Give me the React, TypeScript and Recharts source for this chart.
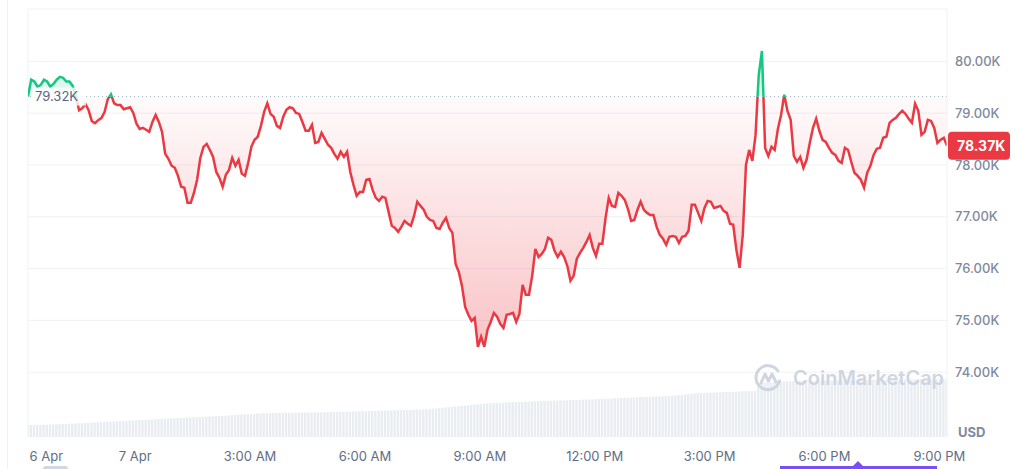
import React from "react";
import {
  ComposedChart,
  Area,
  Bar,
  XAxis,
  YAxis,
  CartesianGrid,
  ReferenceLine,
} from "recharts";

// BTC / USD, 24h, 5-minute samples starting 6 Apr 21:12
// time is in hours relative to 7 Apr 00:00
const START_HOUR = -2.8;
const STEP_HOURS = 1 / 12;

const PRICES = [
  79320, 79645, 79610, 79510, 79545, 79645, 79610, 79510, 79565, 79645,
  79700, 79680, 79610, 79610, 79525, 79335, 79055, 79095, 79175, 79055,
  78845, 78805, 78865, 78905, 79020, 79270, 79365, 79190, 79155, 79155,
  79075, 79095, 79115, 79005, 78795, 78695, 78715, 78680, 78640, 78830,
  78965, 78830, 78640, 78215, 78120, 77985, 77945, 77790, 77580, 77560,
  77270, 77270, 77460, 77715, 78135, 78350, 78405, 78290, 78155, 77865,
  77750, 77580, 77810, 77905, 78135, 77985, 78100, 77830, 77790, 78040,
  78350, 78485, 78545, 78755, 79025, 79190, 78985, 78930, 78755, 78715,
  78930, 79065, 79115, 79095, 79005, 78985, 78830, 78660, 78660, 78775,
  78425, 78445, 78620, 78505, 78390, 78330, 78215, 78120, 78255, 78155,
  78255, 77865, 77615, 77405, 77480, 77480, 77715, 77730, 77520, 77365,
  77305, 77385, 77365, 77095, 76825, 76785, 76710, 76805, 76920, 76865,
  76825, 77020, 77290, 77210, 77135, 77000, 76940, 76920, 76785, 76765,
  76885, 76980, 76785, 76690, 76090, 75935, 75665, 75260, 75110, 74990,
  75050, 74490, 74685, 74490, 74820, 74970, 75145, 75070, 74935, 74855,
  75110, 75125, 75145, 74970, 75125, 75685, 75495, 75495, 75860, 76380,
  76225, 76285, 76380, 76595, 76555, 76345, 76225, 76325, 76225, 76055,
  75765, 75860, 76190, 76305, 76400, 76515, 76650, 76400, 76245, 76480,
  76480, 76980, 77365, 77210, 77190, 77460, 77405, 77325, 77155, 76920,
  76940, 77135, 77290, 77135, 77075, 77035, 77035, 76805, 76650, 76575,
  76460, 76615, 76630, 76615, 76495, 76615, 76630, 76730, 77230, 77230,
  77075, 76920, 77170, 77305, 77290, 77170, 77190, 77210, 77115, 77075,
  76865, 76845, 76360, 76015, 76650, 78000, 78290, 78080, 78575, 79740,
  80200, 78330, 78175, 78350, 78290, 78695, 78965, 79355, 79045, 78870,
  78175, 78060, 78155, 77945, 78100, 78425, 78715, 78890, 78660, 78485,
  78445, 78330, 78235, 78195, 78080, 78040, 78330, 78290, 78060, 77850,
  77790, 77715, 77560, 77850, 77985, 78195, 78310, 78330, 78525, 78545,
  78810, 78870, 78910, 78985, 79045, 78985, 78890, 78815, 79180, 79045,
  78580, 78640, 78870, 78850, 78715, 78425, 78485, 78525, 78370,
];

// 24h rolling volume, arbitrary units
const VOLUMES = [
  12, 12, 12, 12.1, 12.2, 12.3, 12.4, 12.5, 12.6, 12.8, 12.9, 13, 13.1, 13.3, 13.4, 13.5, 13.7, 13.8, 14, 14.2, 14.4, 14.6, 14.8,
  15, 15.1, 15.3, 15.5, 15.6, 15.8, 16, 16.1, 16.3, 16.5, 16.6, 16.8, 17, 17.1, 17.3, 17.5, 17.6, 17.8,
  18, 18.1, 18.3, 18.5, 18.6, 18.8, 19, 19.1, 19.3, 19.5, 19.6, 19.8, 20, 20.1, 20.3, 20.5, 20.6, 20.8, 20.9,
  21, 21.2, 21.4, 21.6, 21.8, 22, 22.2, 22.4, 22.6, 22.8, 23, 23.2, 23.4, 23.6, 23.8, 23.9,
  24, 24, 24.1, 24.1, 24.2, 24.2, 24.3, 24.3, 24.4, 24.4, 24.5, 24.5, 24.6, 24.6, 24.7, 24.7, 24.8, 24.8, 24.9,
  25, 25.1, 25.2, 25.3, 25.4, 25.4, 25.5, 25.6, 25.7, 25.8, 25.9, 25.9,
  26, 26.1, 26.2, 26.3, 26.4, 26.5, 26.6, 26.7, 26.8, 26.9, 27, 27.1, 27.2, 27.3, 27.4, 27.5, 27.6, 27.7, 27.9,
  28, 28.3, 28.6, 28.9, 29.3, 29.6, 29.9, 30.2, 30.5, 30.8, 31.2, 31.5, 31.8, 32.1, 32.4, 32.7, 33.1, 33.4, 33.7,
  34, 34.1, 34.3, 34.4, 34.5, 34.7, 34.8, 34.9, 35.1, 35.2, 35.3, 35.5, 35.6, 35.7, 35.9,
  36, 36.1, 36.2, 36.3, 36.4, 36.5, 36.6, 36.7, 36.8, 36.9, 37, 37.1, 37.2, 37.3, 37.4, 37.5, 37.6, 37.7, 37.9,
  38, 38.2, 38.3, 38.5, 38.6, 38.8, 38.9, 39.1, 39.2, 39.4, 39.5, 39.7, 39.8,
  40, 40.1, 40.2, 40.3, 40.4, 40.6, 40.7, 40.8, 40.9,
  41, 41.3, 41.7, 42, 42.3, 42.7, 43, 43.3, 43.7,
  44, 44.1, 44.3, 44.4, 44.5, 44.6, 44.8, 44.9, 45, 45.1, 45.3, 45.4, 45.5, 45.6, 45.8, 45.9,
  46, 46.2, 46.4,
  54, 54.2, 54.4, 54.7, 54.9, 55.1, 55.3, 55.6, 55.8,
  56, 56, 56.1, 56.1, 56.2, 56.2, 56.3, 56.3, 56.4, 56.4,
  56.5, 56.5, 56.6, 56.6, 56.7, 56.7, 56.8, 56.8, 56.9, 56.9,
  57, 57, 57.1, 57.1, 57.2, 57.2, 57.3, 57.3, 57.4, 57.4,
  57.5, 57.5, 57.6, 57.6, 57.7, 57.7, 57.8, 57.8, 57.9, 57.9,
  58, 58, 58, 58, 58, 58, 58, 58, 58, 58, 58,
];

const OPEN_PRICE = 79320;
const PRICE_MIN = 72750;
const PRICE_MAX = 81010;
const PRICE_TICKS = [74000, 75000, 76000, 77000, 78000, 79000, 80000];
const TIME_TICKS = [-2.32, 0, 3, 6, 9, 12, 15, 18, 21];
const TIME_LABELS = [
  "6 Apr",
  "7 Apr",
  "3:00 AM",
  "6:00 AM",
  "9:00 AM",
  "12:00 PM",
  "3:00 PM",
  "6:00 PM",
  "9:00 PM",
];

const UP = "#16c784";
const DOWN = "#ea3943";
const FONT = "Inter, sans-serif";

const data = PRICES.map((price, i) => ({
  t: START_HOUR + i * STEP_HOURS,
  price,
  volume: VOLUMES[i],
}));
const END_HOUR = START_HOUR + (PRICES.length - 1) * STEP_HOURS;
const LAST_PRICE = PRICES[PRICES.length - 1];

const hi = Math.max(...PRICES);
const lo = Math.min(...PRICES);
const splitAt = (hi - OPEN_PRICE) / (hi - lo);

const fmtK = (v: number) => `${(v / 1000).toFixed(2)}K`;

const PriceTick = ({ x, y, payload }: any) => (
  <text
    x={x}
    y={y}
    dy="0.35em"
    textAnchor="start"
    fill="#808a9d"
    fontSize={13}
    fontWeight={500}
    fontFamily={FONT}
  >
    {fmtK(payload.value)}
  </text>
);

const TimeTick = ({ x, y, payload }: any) => {
  const idx = TIME_TICKS.indexOf(payload.value);
  return (
    <text
      x={x}
      y={y}
      dy="0.71em"
      textAnchor="middle"
      fill="#616e85"
      fontSize={13}
      fontFamily={FONT}
    >
      {TIME_LABELS[idx]}
    </text>
  );
};

const OpenLabel = ({ viewBox }: any) => {
  if (!viewBox) return null;
  return (
    <g>
      <rect x={viewBox.x + 4} y={viewBox.y - 9} width={54} height={18} fill="#fff" fillOpacity={0.8} />
      <text
        x={viewBox.x + 7}
        y={viewBox.y}
        dy="0.35em"
        fill="#58667e"
        fontSize={13}
        fontFamily={FONT}
      >
        {fmtK(OPEN_PRICE)}
      </text>
    </g>
  );
};

const LastBadge = ({ viewBox }: any) => {
  if (!viewBox) return null;
  const right = viewBox.x + viewBox.width;
  return (
    <g>
      <rect x={right + 1} y={viewBox.y - 14} width={62} height={28} rx={4} fill={DOWN} />
      <text
        x={right + 10}
        y={viewBox.y}
        dy="0.35em"
        fill="#fff"
        fontSize={14}
        fontWeight={700}
        fontFamily={FONT}
      >
        {fmtK(LAST_PRICE)}
      </text>
    </g>
  );
};

function Watermark() {
  return (
    <div
      style={{
        position: "absolute",
        left: 754,
        top: 363,
        display: "flex",
        alignItems: "center",
        gap: 10,
        color: "#cbd2de",
        fontFamily: FONT,
        fontSize: 20,
        fontWeight: 600,
        opacity: 0.9,
      }}
    >
      <svg width={29} height={29} viewBox="0 0 29 29">
        <path
          d="M24 8 A12 12 0 1 0 25.5 18"
          fill="none"
          stroke="#cbd2de"
          strokeWidth={3}
          strokeLinecap="round"
        />
        <path
          d="M7 20 L11 11 L14.5 18 L18 11 L22 19"
          fill="none"
          stroke="#cbd2de"
          strokeWidth={3}
          strokeLinejoin="round"
          strokeLinecap="round"
        />
      </svg>
      <span>CoinMarketCap</span>
    </div>
  );
}

export default function App() {
  return (
    <div
      style={{
        position: "absolute",
        left: 0,
        top: 0,
        width: 1020,
        height: 469,
        background: "#fff",
        overflow: "hidden",
        fontFamily: FONT,
      }}
    >
      <div style={{ position: "absolute", left: 7, top: 0, width: 1, height: 469, background: "#eff2f5" }} />
      <ComposedChart
        width={1020}
        height={469}
        data={data}
        margin={{ top: 9, right: 0, bottom: 0, left: 28 }}
      >
        <defs>
          <linearGradient id="lineGrad" x1="0" y1="0" x2="0" y2="1">
            <stop offset={0} stopColor={UP} />
            <stop offset={splitAt} stopColor={UP} />
            <stop offset={splitAt} stopColor={DOWN} />
            <stop offset={1} stopColor={DOWN} />
          </linearGradient>
          <linearGradient id="fillGrad" x1="0" y1="0" x2="0" y2="1">
            <stop offset={0} stopColor={UP} stopOpacity={0.3} />
            <stop offset={splitAt} stopColor={UP} stopOpacity={0.08} />
            <stop offset={splitAt} stopColor={DOWN} stopOpacity={0.02} />
            <stop offset={1} stopColor={DOWN} stopOpacity={0.3} />
          </linearGradient>
        </defs>
        <CartesianGrid
          yAxisId="price"
          stroke="#eff2f5"
          horizontalValues={[...PRICE_TICKS, PRICE_MAX]}
          verticalValues={[START_HOUR]}
        />
        <XAxis
          dataKey="t"
          type="number"
          domain={[START_HOUR, END_HOUR]}
          ticks={TIME_TICKS}
          interval={0}
          tick={<TimeTick />}
          axisLine={false}
          tickLine={false}
          tickMargin={9}
          height={32}
          allowDataOverflow
        />
        <YAxis
          yAxisId="price"
          orientation="right"
          domain={[PRICE_MIN, PRICE_MAX]}
          ticks={PRICE_TICKS}
          interval={0}
          tick={<PriceTick />}
          axisLine={{ stroke: "#eff2f5" }}
          tickLine={false}
          width={73}
          allowDataOverflow
        />
        <YAxis yAxisId="vol" hide domain={[0, (m: number) => m * 7.4]} />
        <Bar
          yAxisId="vol"
          dataKey="volume"
          fill="#e9edf2"
          barSize={2.4}
          isAnimationActive={false}
        />
        <Area
          yAxisId="price"
          dataKey="price"
          type="linear"
          baseValue={OPEN_PRICE}
          stroke="url(#lineGrad)"
          strokeWidth={2.5}
          fill="url(#fillGrad)"
          fillOpacity={1}
          dot={false}
          activeDot={false}
          isAnimationActive={false}
        />
        <ReferenceLine
          yAxisId="price"
          y={OPEN_PRICE}
          stroke="#a6b0c3"
          strokeDasharray="1 3"
          label={<OpenLabel />}
        />
        <ReferenceLine
          yAxisId="price"
          y={LAST_PRICE}
          stroke="none"
          label={<LastBadge />}
        />
      </ComposedChart>
      <Watermark />
      <div
        style={{
          position: "absolute",
          left: 958,
          top: 424,
          color: "#808a9d",
          fontSize: 13,
          fontWeight: 700,
          fontFamily: FONT,
        }}
      >
        USD
      </div>
      <div style={{ position: "absolute", left: 43, top: 466, width: 25, height: 6, borderRadius: 3, background: "#cfd6e4" }} />
      <div style={{ position: "absolute", left: 780, top: 466, width: 157, height: 3, background: "#7b4df6" }} />
      <div
        style={{
          position: "absolute",
          left: 853,
          top: 461,
          width: 0,
          height: 0,
          borderLeft: "5px solid transparent",
          borderRight: "5px solid transparent",
          borderBottom: "5px solid #7b4df6",
        }}
      />
    </div>
  );
}
